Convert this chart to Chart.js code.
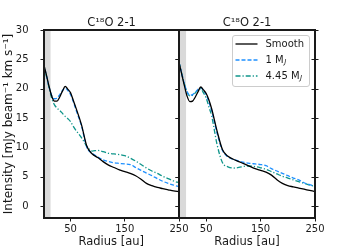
<!DOCTYPE html>
<html>
<head>
<title>C18O 2-1 radial profiles</title>
<style>
body { margin: 0; background: #fff; }
#wrap { position: relative; width: 350px; height: 250px; }
#wrap canvas { position: absolute; left: 0; top: 0; }
</style>
<script src="https://cdn.jsdelivr.net/npm/chart.js@4/dist/chart.umd.min.js"></script>
</head>
<body>
<div id="wrap">
  <canvas id="leftChart" width="350" height="250"></canvas>
  <canvas id="rightChart" width="350" height="250"></canvas>
</div>

<script>
var radius = [0,5,10,15,20,25,30,35,40,45,50,55,60,70,80,90,100,110,120,130,140,150,160,170,180,190,200,210,220,230,240,250];

// left panel
var leftSmooth = [24.3,22.5,20.5,18.8,17.9,17.9,18.6,19.6,20.4,19.9,19.3,18.0,16.7,13.9,10.2,8.9,8.3,7.6,7.0,6.6,6.2,5.9,5.6,5.2,4.6,3.9,3.5,3.2,3.0,2.8,2.6,2.5];
var left1MJ    = [24.3,22.4,20.4,18.9,18.3,18.4,19.0,19.7,20.1,19.7,19.0,17.8,16.4,13.7,10.0,9.0,8.4,7.9,7.6,7.4,7.3,7.2,7.1,6.6,6.1,5.65,5.2,4.7,4.25,3.9,3.6,3.35];
var left445MJ  = [24.3,22.3,20.3,18.4,17.3,16.7,16.3,15.8,15.3,14.9,14.4,13.6,12.9,11.7,10.2,9.4,9.5,9.3,9.0,8.9,8.8,8.6,8.2,7.7,7.1,6.5,6.0,5.6,5.1,4.7,4.3,4.0];

// right panel
var rightSmooth = [24.5,22.5,20.5,18.7,17.8,17.9,18.6,19.5,20.3,19.8,19.2,18.1,16.6,12.8,9.6,8.5,8.0,7.6,7.2,6.8,6.4,6.1,5.8,5.3,4.5,3.9,3.5,3.3,3.1,2.9,2.7,2.5];
var right1MJ    = [24.5,22.6,20.8,19.5,18.9,19.0,19.4,19.9,20.2,19.7,19.0,17.7,16.3,12.4,9.5,8.4,8.0,7.7,7.45,7.3,7.2,7.1,6.9,6.4,6.0,5.6,5.2,4.8,4.5,4.0,3.7,3.4];
var right445MJ  = [24.5,22.6,20.8,19.4,18.8,18.9,19.3,19.8,20.0,19.3,18.4,16.9,15.4,10.5,7.4,6.7,6.5,6.6,6.8,6.85,6.75,6.55,6.3,5.9,5.5,5.1,4.8,4.5,4.2,3.9,3.6,3.4];

var xTicks = [50,150,250];
var yTicks = [0,5,10,15,20,25,30];
var beamRadius = 13;   // shaded region near the centre
var panelTitle = 'C\u00B9\u2078O 2-1';
var seriesNames = ['Smooth', '1 M', '4.45 M'];

var INK = '#1a1a1a';
var BLUE = '#1e90ff';
var TEAL = '#0f958a';
var FONT = "'DejaVu Sans', sans-serif";

Chart.defaults.font.family = FONT;
Chart.defaults.color = INK;

function pts(ys) {
  return radius.map(function (r, i) { return {x: r, y: ys[i]}; });
}

function makeSets(smooth, m1, m445) {
  var base = {pointRadius: 0, borderWidth: 1.3, fill: false, cubicInterpolationMode: 'monotone'};
  return [
    Object.assign({label: seriesNames[0], data: pts(smooth), borderColor: '#000'}, base),
    Object.assign({label: seriesNames[1], data: pts(m1), borderColor: BLUE, borderDash: [4, 2]}, base),
    Object.assign({label: seriesNames[2], data: pts(m445), borderColor: TEAL, borderDash: [5, 2, 1.2, 2]}, base)
  ];
}

// gray band, frame, inout ticks and title
var framePlugin = {
  id: 'frame',
  beforeDatasetsDraw: function (chart) {
    var ctx = chart.ctx, a = chart.chartArea, x = chart.scales.x;
    ctx.save();
    ctx.fillStyle = '#d9d9d9';
    var x1 = x.getPixelForValue(beamRadius);
    ctx.fillRect(a.left, a.top, x1 - a.left, a.bottom - a.top);
    ctx.restore();
  },
  afterDraw: function (chart) {
    var ctx = chart.ctx, a = chart.chartArea, y = chart.scales.y;
    var L = Math.round(a.left), R = Math.round(a.right), T = Math.round(a.top), B = Math.round(a.bottom);
    ctx.save();
    ctx.setLineDash([]);
    ctx.strokeStyle = INK;
    ctx.lineWidth = 2;
    ctx.beginPath();
    ctx.moveTo(L, T); ctx.lineTo(R, T); ctx.lineTo(R, B); ctx.lineTo(L, B); ctx.closePath();
    ctx.stroke();
    ctx.lineWidth = 1;
    ctx.beginPath();
    yTicks.forEach(function (v) {
      var py = Math.round(y.getPixelForValue(v)) + 0.5;
      ctx.moveTo(L - 3.5, py); ctx.lineTo(L, py);
      ctx.moveTo(R - 3.5, py); ctx.lineTo(R + 3.5, py);
    });
    ctx.stroke();
    ctx.fillStyle = INK;
    ctx.font = '11.5px ' + FONT;
    ctx.textAlign = 'center';
    ctx.textBaseline = 'alphabetic';
    ctx.fillText(panelTitle, (L + R) / 2, T - 4);
    ctx.restore();
  }
};

// legend with italic subscript J
var legendPlugin = {
  id: 'mjLegend',
  afterDraw: function (chart) {
    var ctx = chart.ctx;
    var bx = 232.5, by = 35.5, bw = 77, bh = 51;
    ctx.save();
    ctx.fillStyle = 'rgba(255,255,255,0.85)';
    ctx.strokeStyle = '#cccccc';
    ctx.lineWidth = 1;
    ctx.beginPath();
    ctx.roundRect(bx, by, bw, bh, 2.5);
    ctx.fill();
    ctx.stroke();
    chart.data.datasets.forEach(function (ds, i) {
      var ly = by + 8.5 + i * 16;
      ctx.strokeStyle = ds.borderColor;
      ctx.lineWidth = ds.borderWidth;
      ctx.setLineDash(ds.borderDash || []);
      ctx.beginPath();
      ctx.moveTo(bx + 3, ly);
      ctx.lineTo(bx + 25, ly);
      ctx.stroke();
      ctx.setLineDash([]);
      ctx.fillStyle = INK;
      ctx.font = '10px ' + FONT;
      ctx.textAlign = 'left';
      ctx.textBaseline = 'middle';
      var tx = bx + 33;
      ctx.fillText(ds.label, tx, ly);
      if (i > 0) {
        var w = ctx.measureText(ds.label).width;
        ctx.font = 'italic 7px ' + FONT;
        ctx.fillText('J', tx + w + 0.5, ly + 2.5);
      }
    });
    ctx.restore();
  }
};

function xScale() {
  return {
    type: 'linear', min: 0, max: 250,
    afterBuildTicks: function (s) { s.ticks = xTicks.map(function (v) { return {value: v}; }); },
    afterFit: function (s) { s.height = 32; },
    grid: {display: true, drawOnChartArea: false, drawTicks: true, tickLength: 3.5, color: INK},
    border: {display: false},
    ticks: {font: {size: 10}, padding: 2, maxRotation: 0, color: INK},
    title: {display: true, text: 'Radius [au]', font: {size: 11.5}, padding: {top: 0, bottom: 1}, color: INK}
  };
}

function yScale(show) {
  return {
    type: 'linear', min: -2, max: 30, display: show,
    afterBuildTicks: function (s) { s.ticks = yTicks.map(function (v) { return {value: v}; }); },
    afterFit: function (s) { s.width = show ? 43.5 : 0; },
    grid: {display: false},
    border: {display: false},
    ticks: {font: {size: 10}, padding: 7, color: INK},
    title: {display: true, text: 'Intensity [mJy beam\u207B\u00B9 km s\u207B\u00B9]', font: {size: 12}, padding: {top: 2, bottom: 0}, color: INK}
  };
}

function makeChart(id, sets, pad, showY, extra) {
  return new Chart(document.getElementById(id), {
    type: 'line',
    data: {datasets: sets},
    options: {
      responsive: false,
      animation: false,
      devicePixelRatio: 1,
      layout: {padding: pad},
      plugins: {legend: {display: false}, tooltip: {enabled: false}},
      scales: {x: xScale(), y: yScale(showY)}
    },
    plugins: [framePlugin].concat(extra)
  });
}

makeChart('leftChart', makeSets(leftSmooth, left1MJ, left445MJ),
  {left: 0, right: 171, top: 30, bottom: 0}, true, []);
makeChart('rightChart', makeSets(rightSmooth, right1MJ, right445MJ),
  {left: 179, right: 35, top: 30, bottom: 0}, false, [legendPlugin]);
</script>
</body>
</html>
